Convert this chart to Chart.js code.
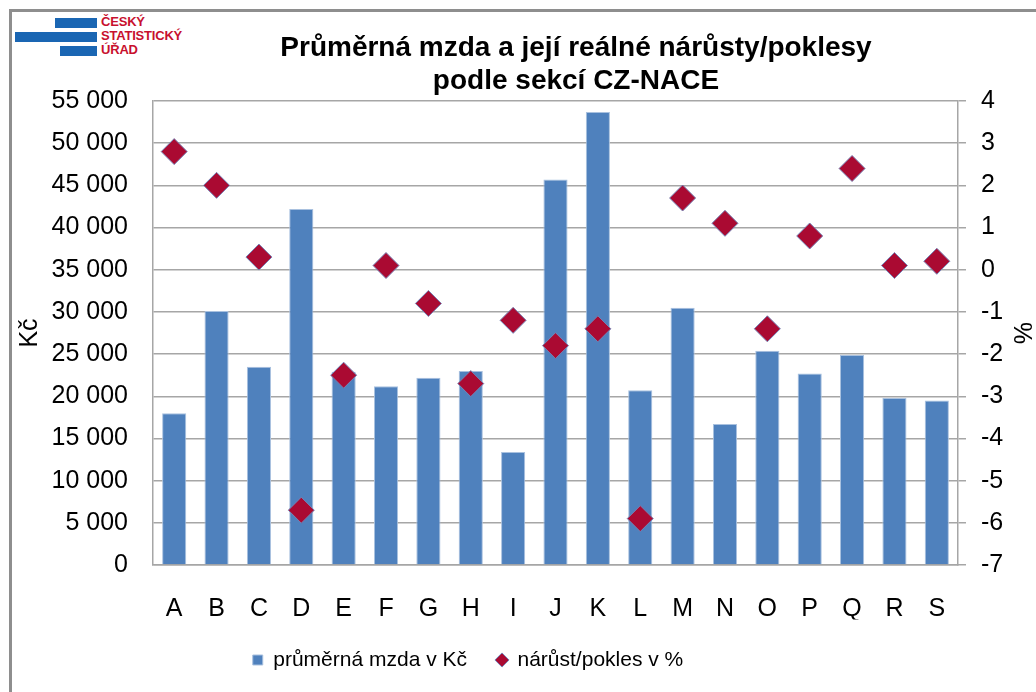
<!DOCTYPE html>
<html>
<head>
<meta charset="utf-8">
<script src="https://cdn.jsdelivr.net/npm/chart.js@4.4.1/dist/chart.umd.min.js"></script>
<style>
  html, body { margin: 0; padding: 0; background: #fff; }
  #wrap { position: relative; width: 1036px; height: 692px; overflow: hidden; }
  #frame { position: absolute; left: 9px; top: 9px; width: 1100px; height: 800px;
           border-left: 3px solid #8e8e8e; border-top: 3px solid #8e8e8e; }
  #logo { position: absolute; left: 0; top: 0; }
  .bar { position: absolute; background: #1a66b3; height: 10px; }
  .txt { position: absolute; left: 101px; font: bold 13px "Liberation Sans", Arial, sans-serif;
         color: #c8102e; line-height: 14px; letter-spacing: -0.2px; }
  canvas { position: absolute; left: 0; top: 0; }
</style>
</head>
<body>
<div id="wrap">
  <div id="frame"></div>
  <div id="logo">
    <div class="bar" style="left:55px; top:18px; width:42px;"></div>
    <div class="bar" style="left:15px; top:32px; width:82px;"></div>
    <div class="bar" style="left:60px; top:46px; width:37px;"></div>
    <div class="txt" style="top:15px;">ČESKÝ</div>
    <div class="txt" style="top:29px;">STATISTICKÝ</div>
    <div class="txt" style="top:43px;">ÚŘAD</div>
  </div>
  <canvas id="chart" width="1036" height="692"></canvas>
</div>
<script>
// sekce CZ-NACE
const sections = ['A', 'B', 'C', 'D', 'E', 'F', 'G', 'H', 'I', 'J', 'K', 'L', 'M', 'N', 'O', 'P', 'Q', 'R', 'S'];
// průměrná mzda v Kč
const avgWage = [18000, 30100, 23500, 42200, 22900, 21200, 22200, 23000, 13400, 45700, 53700, 20700, 30500, 16700, 25400, 22700, 24900, 19800, 19500];
// reálný nárůst/pokles v %
const realChange = [2.8, 2.0, 0.3, -5.7, -2.5, 0.1, -0.8, -2.7, -1.2, -1.8, -1.4, -5.9, 1.7, 1.1, -1.4, 0.8, 2.4, 0.1, 0.2];

const FONT = '"Liberation Sans", Arial, sans-serif';
const GRID = '#a6a6a6';

function fmtThousands(v) {
  return String(v).replace(/\B(?=(\d{3})+(?!\d))/g, ' ');
}

// Excel places the title a bit right and the legend a bit left of centre
const shiftBoxes = {
  id: 'shiftBoxes',
  afterLayout(chart) {
    chart.titleBlock.left += 52;
    chart.titleBlock.right += 52;
    chart.legend.left -= 56;
    chart.legend.right -= 56;
  }
};

const ctx = document.getElementById('chart').getContext('2d');
new Chart(ctx, {
  data: {
    labels: sections,
    datasets: [{
      type: 'bar',
      label: 'průměrná mzda v Kč',
      data: avgWage,
      yAxisID: 'y',
      backgroundColor: '#4f81bd',
      borderColor: '#a9c1df',
      borderWidth: 1,
      barPercentage: 0.57,
      categoryPercentage: 1.0,
      pointStyle: 'rect',
      order: 1
    }, {
      type: 'line',
      label: 'nárůst/pokles v %',
      data: realChange,
      yAxisID: 'y1',
      showLine: false,
      pointStyle: 'rectRot',
      pointRadius: 13,
      pointHoverRadius: 13,
      backgroundColor: '#aa0a32',
      pointBackgroundColor: '#aa0a32',
      borderColor: '#7583b5',
      pointBorderColor: '#7583b5',
      pointBorderWidth: 1,
      order: 0
    }]
  },
  plugins: [shiftBoxes],
  options: {
    responsive: false,
    animation: false,
    layout: { padding: { left: 12, right: 0, top: 10, bottom: 11.5 } },
    plugins: {
      title: {
        display: true,
        text: ['Průměrná mzda a její reálné nárůsty/poklesy', 'podle sekcí CZ-NACE'],
        color: '#000',
        font: { family: FONT, size: 28, weight: 'bold', lineHeight: '33px' },
        padding: { top: 22, bottom: 3 }
      },
      legend: {
        position: 'bottom',
        labels: {
          usePointStyle: true,
          boxWidth: 10,
          boxHeight: 10,
          padding: 30,
          color: '#000',
          font: { family: FONT, size: 21 },
          sort: (a, b) => a.datasetIndex - b.datasetIndex
        }
      },
      tooltip: { enabled: false }
    },
    scales: {
      x: {
        grid: { display: false, drawTicks: false },
        border: { display: true, color: GRID, width: 1.5 },
        ticks: { color: '#000', font: { family: FONT, size: 25 }, padding: 29, maxRotation: 0 },
        afterFit: s => { s.height = 54.5; }
      },
      y: {
        position: 'left',
        min: 0,
        max: 55000,
        ticks: {
          stepSize: 5000,
          color: '#000',
          font: { family: FONT, size: 25 },
          padding: 25,
          callback: v => fmtThousands(v)
        },
        grid: { color: GRID, lineWidth: 1.5, drawTicks: false },
        border: { display: true, color: GRID, width: 1.5 },
        title: {
          display: true,
          text: 'Kč',
          color: '#000',
          font: { family: FONT, size: 25, lineHeight: 1.2 },
          padding: { top: 3, bottom: 0 }
        },
        afterFit: s => { s.width = 141; }
      },
      y1: {
        position: 'right',
        min: -7,
        max: 4,
        ticks: {
          stepSize: 1,
          color: '#000',
          font: { family: FONT, size: 25 },
          padding: 15
        },
        grid: { drawOnChartArea: false, drawTicks: true, tickLength: 8, color: GRID, lineWidth: 1.5 },
        border: { display: true, color: GRID, width: 1.5 },
        title: {
          display: true,
          text: '%',
          color: '#000',
          font: { family: FONT, size: 25, lineHeight: 1.2 },
          padding: { top: 0, bottom: 0 }
        },
        afterFit: s => { s.width = 78; }
      }
    }
  }
});
</script>
</body>
</html>
